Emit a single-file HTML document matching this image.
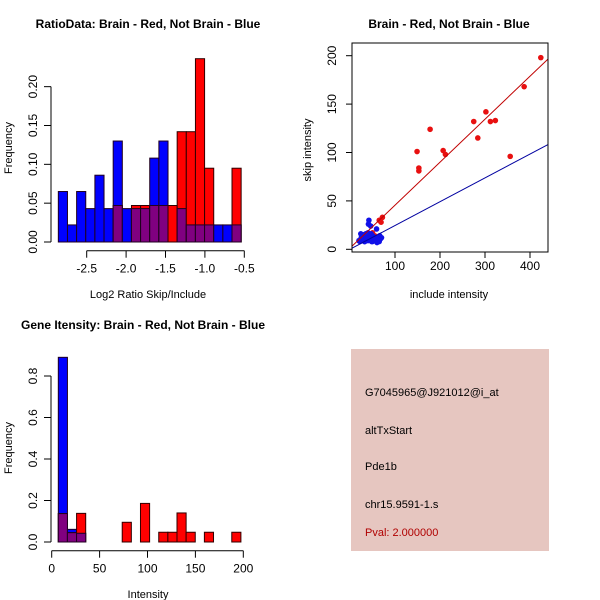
<!DOCTYPE html>
<html><head><meta charset="utf-8"><style>
body{margin:0;background:#fff}
svg{display:block;font-family:"Liberation Sans",sans-serif}
</style></head><body>
<svg id="s" width="600" height="600" xmlns="http://www.w3.org/2000/svg">
<rect x="351" y="349" width="198" height="202" fill="#e6c6c0"/>
<g font-size="11">
<text x="365" y="396">G7045965@J921012@i_at</text>
<text x="365" y="434">altTxStart</text>
<text x="365" y="470">Pde1b</text>
<text x="365" y="508">chr15.9591-1.s</text>
<text x="365" y="536" fill="#b00000">Pval: 2.000000</text>
</g>
</svg>
<script>
// Panel 1: ratio histogram
const ratioStart = -2.86, ratioBin = 0.116;
const ratioBlue = [0.065,0.022,0.065,0.043,0.086,0.043,0.13,0.043,0.043,0.043,0.108,0.13,0,0.043,0.022,0.022,0.022,0.022,0.022,0.022];
const ratioRed = [0,0,0,0,0,0,0.047,0,0.047,0.047,0.047,0.047,0.047,0.142,0.142,0.236,0.095,0,0,0.095];
const ratioXTicks = [-2.5,-2.0,-1.5,-1.0,-0.5];
const ratioXLabels = ["-2.5","-2.0","-1.5","-1.0","-0.5"];
const ratioYTicks = [0,0.05,0.10,0.15,0.20];
const ratioYLabels = ["0.00","0.05","0.10","0.15","0.20"];
// Panel 3: intensity histogram
const intStart = 6.9, intBin = 9.53;
const intBlue = [0.89,0.061,0.042,0,0,0,0,0,0,0,0,0,0,0,0,0,0,0,0,0];
const intRed = [0.137,0.045,0.138,0,0,0,0,0.095,0,0.186,0,0.047,0.047,0.14,0.047,0,0.047,0,0,0.047];
const intXTicks = [0,50,100,150,200];
const intXLabels = ["0","50","100","150","200"];
const intYTicks = [0,0.2,0.4,0.6,0.8];
const intYLabels = ["0.0","0.2","0.4","0.6","0.8"];
// Panel 2: scatter
const redX = [424,387,302,275,312,323,284,178,149,153,153,207,212,356,72,69,65,45,50,55];
const redY = [198,168,142,132,132,133,115,124,101,84,81,102,98,96,33,28,30,15,17,14];
const blueX = [42,41,46,59,24,20,25,28,30,32,35,38,40,42,45,48,50,52,55,58,60,62,65,68,70,30,35,40,45,50,55,60,33,38,43,48,53,63,28,66,22,36,47,57];
const blueY = [30,26,24,21,16,9,12,14,10,8,11,13,9,12,15,10,8,13,11,9,12,10,8,11,12,15,16,17,13,14,9,7,8,10,11,8,10,9,12,14,8,12,16,12];
const redFit = [1.2,0.444];
const blueFit = [0,0.246];
const scX = [100,200,300,400];
const scY = [0,50,100,150,200];

const svg = document.getElementById('s');
const NS = 'http://www.w3.org/2000/svg';
function mk(tag, at, parent){const e=document.createElementNS(NS,tag);for(const k in at)e.setAttribute(k,at[k]);(parent||svg).appendChild(e);return e;}
function txt(x,y,s,at,parent){const e=mk('text',Object.assign({x:x,y:y,'text-anchor':'middle','font-size':12},at||{}),parent);e.textContent=s;return e;}

function hist(o){
  const g=mk('g',{});
  
  
  const sx=v=>o.x0+(v-o.xv0)*o.xs, sy=v=>o.y0-v*o.ys;
  for(let i=0;i<o.blue.length;i++){
    const a=o.start+i*o.bin, b=a+o.bin, x=sx(a), w=sx(b)-sx(a);
    const bl=o.blue[i], rd=o.red[i], mn=Math.min(bl,rd);
    if(bl>0){const r=mk('rect',{x:x,y:sy(bl),width:w,height:sy(0)-sy(bl),fill:'#0000ff',stroke:'#200020'},g);
      
      }
    if(rd>0){const r=mk('rect',{x:x,y:sy(rd),width:w,height:sy(0)-sy(rd),fill:'#ff0000',stroke:'#300000'},g);
      
      }
    if(mn>0){const r=mk('rect',{x:x,y:sy(mn),width:w,height:sy(0)-sy(mn),fill:'#800080',stroke:'#200020'},g);
      
      }
  }
  const ax=mk('g',{stroke:'#000',fill:'none'},g);
  
  
  mk('line',{x1:sx(o.xt[0]),x2:sx(o.xt[o.xt.length-1]),y1:o.axY,y2:o.axY},ax);
  o.xt.forEach((t,i)=>{mk('line',{x1:sx(t),x2:sx(t),y1:o.axY,y2:o.axY+7},ax);
    const l=txt(sx(t),o.axY+22,o.xl[i],{},g);
    
    });
  const ay=mk('g',{stroke:'#000',fill:'none'},g);
  
  
  mk('line',{x1:51,x2:51,y1:sy(o.yt[0]),y2:sy(o.yt[o.yt.length-1])},ay);
  o.yt.forEach((t,i)=>{mk('line',{x1:44,x2:51,y1:sy(t),y2:sy(t)},ay);
    const l=txt(0,0,o.yl[i],{transform:`translate(37,${sy(t)}) rotate(-90)`},g);
    
    });
  const yt=txt(0,0,'Frequency',{transform:`translate(12,${o.ymid}) rotate(-90)`,'font-size':11},g);
  
  
  const xt=txt(o.xmid,o.xtY,o.xtitle,{'font-size':11},g);
  
  
  const tt=txt(o.tx,o.ty,o.title,{'font-weight':'bold','font-size':12},g);
  
  
}
hist({name:'ratio-histogram',start:ratioStart,bin:ratioBin,blue:ratioBlue,red:ratioRed,x0:86.7,xv0:-2.5,xs:78.8,y0:242,ys:776.7,
  xt:ratioXTicks,xl:ratioXLabels,yt:ratioYTicks,yl:ratioYLabels,axY:250.7,ymid:148,xmid:148,xtY:298,xtitle:'Log2 Ratio Skip/Include',
  tx:148,ty:28,title:'RatioData: Brain - Red, Not Brain - Blue'});
hist({name:'intensity-histogram',start:intStart,bin:intBin,blue:intBlue,red:intRed,x0:51.7,xv0:0,xs:0.958,y0:542,ys:207.5,
  xt:intXTicks,xl:intXLabels,yt:intYTicks,yl:intYLabels,axY:550.7,ymid:448,xmid:148,xtY:598,xtitle:'Intensity',
  tx:143,ty:329,title:'Gene Itensity: Brain - Red, Not Brain - Blue'});

const g=mk('g',{});


const px=v=>350+v*0.45, py=v=>249.3-v*0.968;
const bx0=352,bx1=548,by0=43,by1=252;
const clip=mk('clipPath',{id:'cp'},g);
mk('rect',{x:bx0,y:by0,width:bx1-bx0,height:by1-by0},clip);
const pts=mk('g',{'clip-path':'url(#cp)'},g);
redX.forEach((x,i)=>{const c=mk('circle',{cx:px(x),cy:py(redY[i]),r:2.8,fill:'#e81010'},pts);
  
  });
blueX.forEach((x,i)=>{const c=mk('circle',{cx:px(x),cy:py(blueY[i]),r:2.8,fill:'#1010e8'},pts);
  
  });
const xa=3.7, xb=441;
const rl=mk('line',{x1:px(xa),y1:py(redFit[0]+redFit[1]*xa),x2:px(xb),y2:py(redFit[0]+redFit[1]*xb),stroke:'#c00000'},pts);


const bl=mk('line',{x1:px(xa),y1:py(blueFit[0]+blueFit[1]*xa),x2:px(xb),y2:py(blueFit[0]+blueFit[1]*xb),stroke:'#0000a0'},pts);


const box=mk('rect',{x:bx0,y:by0,width:bx1-bx0,height:by1-by0,fill:'none',stroke:'#000'},g);


scX.forEach(t=>{mk('line',{x1:px(t),x2:px(t),y1:by1,y2:by1+6,stroke:'#000'},g);
  const l=txt(px(t),by1+18,String(t),{},g);
  
  });
scY.forEach(t=>{mk('line',{x1:bx0-6,x2:bx0,y1:py(t),y2:py(t),stroke:'#000'},g);
  const l=txt(0,0,String(t),{transform:`translate(336,${py(t)}) rotate(-90)`},g);
  
  });
const sxt=txt(449,298,'include intensity',{'font-size':11},g);


const syt=txt(0,0,'skip intensity',{transform:'translate(311,150) rotate(-90)','font-size':11},g);


const stt=txt(449,28,'Brain - Red, Not Brain - Blue',{'font-weight':'bold','font-size':12},g);


</script>
</body></html>
